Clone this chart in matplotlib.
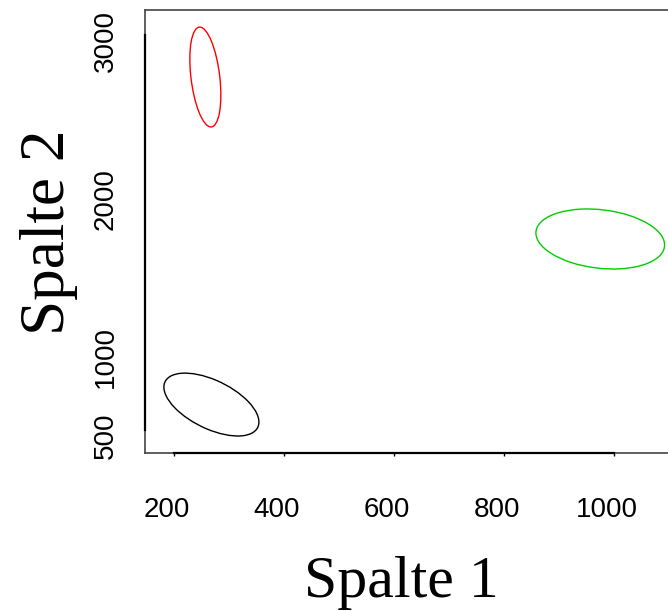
import numpy as np
import matplotlib
matplotlib.use("Agg")
import matplotlib.pyplot as plt
from matplotlib.patches import Ellipse
import matplotlib.transforms as mtransforms

# ---- data ----
centers_x = [268, 257, 975]
centers_y = [661, 2734, 1709]
spread_x = [86.4, 28.2, 117]
spread_y = [199, 316, 190]
correlation = [-0.555, -0.36, -0.2]
colors = ["#000000", "#FF0000", "#00CD00"]

x_ticks = [200, 400, 600, 800, 1000]
y_ticks = [500, 1000, 2000, 3000]
x_label = "Spalte 1"
y_label = "Spalte 2"

W, H = 668, 611
fig = plt.figure(figsize=(W / 100, H / 100), dpi=100)
# axes box in pixels: left 145, right 680 (beyond edge), top 10, bottom 453
l, r, t, b = 145, 680, 10, 453
ax = fig.add_axes([l / W, 1 - b / H, (r - l) / W, (b - t) / H])

xpx = 0.55
ypx = 0.158
ax.set_xlim(200 - (174 - l) / xpx, 200 + (r - 174) / xpx)
ax.set_ylim(500 - (b - 430) / ypx, 3000 + (35 - t) / ypx)

for cx, cy, sx, sy, rho, c in zip(centers_x, centers_y, spread_x, spread_y, correlation, colors):
    cov = np.array([[sx * sx, rho * sx * sy], [rho * sx * sy, sy * sy]])
    vals, vecs = np.linalg.eigh(cov)
    ang = np.degrees(np.arctan2(vecs[1, 1], vecs[0, 1]))
    e = Ellipse((cx, cy), width=2 * np.sqrt(vals[1]), height=2 * np.sqrt(vals[0]),
                angle=ang, fill=False, edgecolor=c, linewidth=1.0)
    ax.add_patch(e)

# box in gray, axis lines in black over tick range
for s in ax.spines.values():
    s.set_color("#444444")
    s.set_linewidth(1.2)
ax.spines["right"].set_visible(False)

ax.plot([x_ticks[0], x_ticks[-1]], [ax.get_ylim()[0]] * 2, color="black", lw=1.6,
        clip_on=False, zorder=5)
ax.plot([ax.get_xlim()[0]] * 2, [y_ticks[0], y_ticks[-1]], color="black", lw=1.6,
        clip_on=False, zorder=5)

ax.set_xticks(x_ticks)
ax.set_yticks(y_ticks)
ax.set_xticklabels([str(v) for v in x_ticks], fontsize=20, fontfamily="Liberation Sans")
ax.set_yticklabels([str(v) for v in y_ticks], fontsize=20, fontfamily="Liberation Sans",
                   rotation=90, va="center")
ax.tick_params(axis="x", length=2, width=1, direction="out", pad=29.5)
ax.tick_params(axis="y", length=0, width=1, direction="out", pad=19)

off_x = mtransforms.ScaledTranslation(-7 / 100, 0, fig.dpi_scale_trans)
for lab in ax.get_xticklabels():
    lab.set_transform(lab.get_transform() + off_x)
off_y = mtransforms.ScaledTranslation(0, -6 / 100, fig.dpi_scale_trans)
for lab in ax.get_yticklabels():
    lab.set_transform(lab.get_transform() + off_y)

fig.text(401.5 / W, 1 - 597 / H, x_label, fontsize=43, fontfamily="Liberation Serif",
         ha="center", va="baseline")
fig.text(64 / W, 1 - 232 / H, y_label, fontsize=45.5, fontfamily="Liberation Serif",
         ha="center", va="baseline", rotation=90, rotation_mode="anchor")

fig.savefig("out.png", dpi=100)
